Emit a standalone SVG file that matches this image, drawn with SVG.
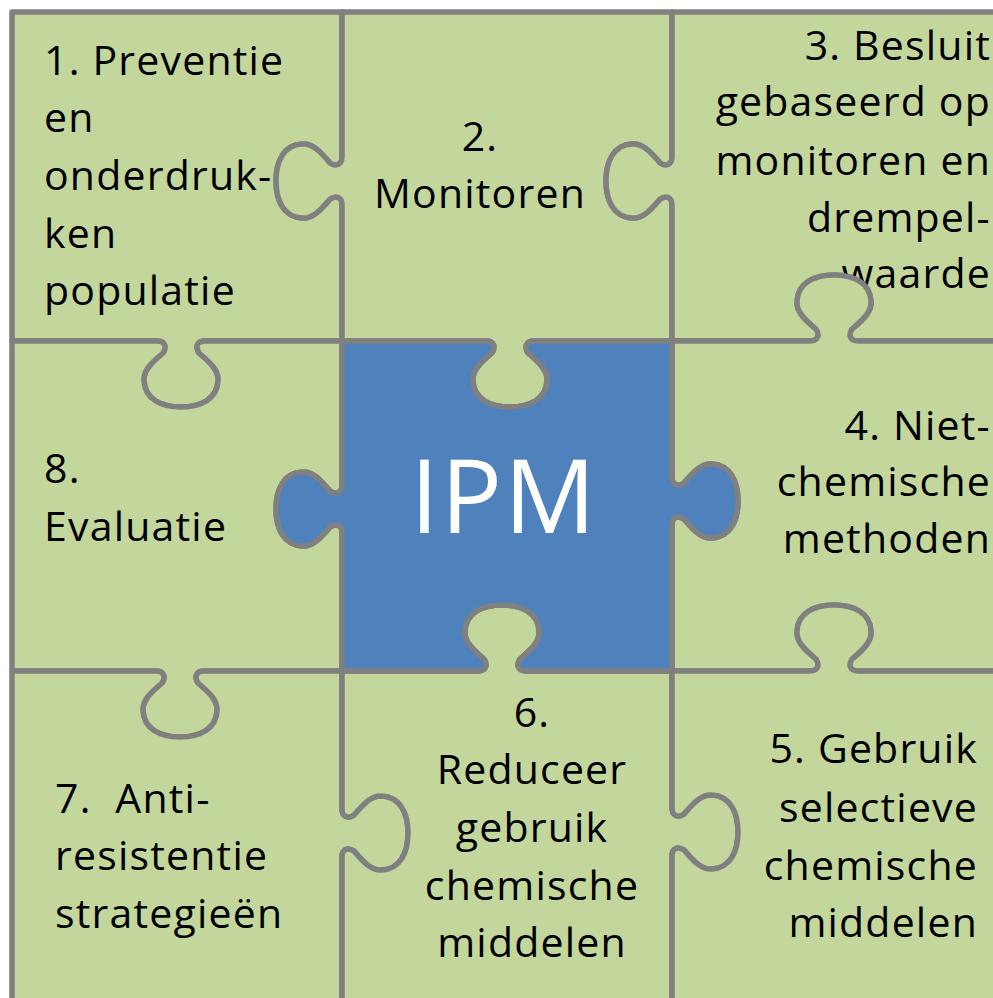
<svg xmlns="http://www.w3.org/2000/svg" width="993" height="998" viewBox="0 0 993 998">
<style>
.pc{fill:#C3D69B;stroke:#808080;stroke-width:5.5;stroke-linejoin:round}
.blue{fill:#4F81BD}
.t{font-family:"Open Sans","Noto Sans","Liberation Sans",sans-serif;font-size:41px;letter-spacing:1.2px;fill:#000}
.ipm{font-family:"Open Sans","Noto Sans","Liberation Sans",sans-serif;font-size:102px;letter-spacing:2px;fill:#fff}
</style>
<rect x="0" y="0" width="993" height="998" fill="#fff"/>
<g id="piece1">
<path class="pc" d="M12,12 L342,12 L342,157 C342,165 336,167 330,163 C320,151 312,143 302,144 C284,145 276,161 276,181 C276,201 284,217 302,218 C312,219 320,211 330,199 C336,195 342,197 342,205 L342,341 L205,341 C197,341 195,347 199,353 C211,363 219,371 218,381 C217,399 201,407 181,407 C161,407 145,399 144,381 C143,371 151,363 163,353 C167,347 165,341 157,341 L12,341 Z"/>
<text class="t" x="44"><tspan x="44" y="75">1. Preventie</tspan><tspan x="44" y="132">en</tspan><tspan x="44" y="190">onderdruk-</tspan><tspan x="44" y="248">ken</tspan><tspan x="44" y="305">populatie</tspan></text>
</g>
<g id="piece2">
<path class="pc" d="M342,12 L672,12 L672,157 C672,165 666,167 660,163 C650,151 642,143 632,144 C614,145 606,161 606,181 C606,201 614,217 632,218 C642,219 650,211 660,199 C666,195 672,197 672,205 L672,341 L534,341 C526,341 524,347 528,353 C540,363 548,371 547,381 C546,399 530,407 510,407 C490,407 474,399 473,381 C472,371 480,363 492,353 C496,347 494,341 486,341 L342,341 L342,205 C342,197 336,195 330,199 C320,211 312,219 302,218 C284,217 276,201 276,181 C276,161 284,145 302,144 C312,143 320,151 330,163 C336,167 342,165 342,157 Z"/>
<text class="t" text-anchor="middle"><tspan x="480" y="151">2.</tspan><tspan x="480" y="208">Monitoren</tspan></text>
</g>
<g id="piece3">
<path class="pc" d="M672,12 L1010,12 L1010,341 L858,341 C850,341 848,335 852,329 C864,319 872,311 871,301 C870,283 854,275 834,275 C814,275 798,283 797,301 C796,311 804,319 816,329 C820,335 818,341 810,341 L672,341 L672,205 C672,197 666,195 660,199 C650,211 642,219 632,218 C614,217 606,201 606,181 C606,161 614,145 632,144 C642,143 650,151 660,163 C666,167 672,165 672,157 Z"/>
<text class="t" text-anchor="end"><tspan x="991" y="60">3. Besluit</tspan><tspan x="991" y="116">gebaseerd op</tspan><tspan x="991" y="175">monitoren en</tspan><tspan x="991" y="232">drempel-</tspan><tspan x="991" y="288">waarde</tspan></text>
</g>
<g id="piece8">
<path class="pc" d="M12,341 L157,341 C165,341 167,347 163,353 C151,363 143,371 144,381 C145,399 161,407 181,407 C201,407 217,399 218,381 C219,371 211,363 199,353 C195,347 197,341 205,341 L342,341 L342,485 C342,493 336,495 330,491 C320,479 312,471 302,472 C284,473 276,489 276,509 C276,529 284,545 302,546 C312,547 320,539 330,527 C336,523 342,525 342,533 L342,671 L204,671 C196,671 194,677 198,683 C210,693 218,701 217,711 C216,729 200,737 180,737 C160,737 144,729 143,711 C142,701 150,693 162,683 C166,677 164,671 156,671 L12,671 Z"/>
<text class="t"><tspan x="44" y="483">8.</tspan><tspan x="44" y="541">Evaluatie</tspan></text>
</g>
<g id="piece4">
<path class="pc" d="M672,341 L810,341 C818,341 820,335 816,329 C804,319 796,311 797,301 C798,283 814,275 834,275 C854,275 870,283 871,301 C872,311 864,319 852,329 C848,335 850,341 858,341 L1010,341 L1010,671 L858,671 C850,671 848,665 852,659 C864,649 872,641 871,631 C870,613 854,605 834,605 C814,605 798,613 797,631 C796,641 804,649 816,659 C820,665 818,671 810,671 L672,671 L672,525 C672,517 678,515 684,519 C694,531 702,539 712,538 C730,537 738,521 738,501 C738,481 730,465 712,464 C702,463 694,471 684,483 C678,487 672,485 672,477 Z"/>
<text class="t" text-anchor="end"><tspan x="991" y="440">4. Niet-</tspan><tspan x="991" y="496">chemische</tspan><tspan x="991" y="553">methoden</tspan></text>
</g>
<g id="piece7">
<path class="pc" d="M12,671 L156,671 C164,671 166,677 162,683 C150,693 142,701 143,711 C144,729 160,737 180,737 C200,737 216,729 217,711 C218,701 210,693 198,683 C194,677 196,671 204,671 L342,671 L342,809 C342,817 348,819 354,815 C364,803 372,795 382,796 C400,797 408,813 408,833 C408,853 400,869 382,870 C372,871 364,863 354,851 C348,847 342,849 342,857 L342,1010 L12,1010 Z"/>
<text class="t" xml:space="preserve"><tspan x="55" y="813">7.  Anti-</tspan><tspan x="55" y="870">resistentie</tspan><tspan x="55" y="928">strategieën</tspan></text>
</g>
<g id="piece6">
<path class="pc" d="M342,671 L478,671 C486,671 488,665 484,659 C472,649 464,641 465,631 C466,613 482,605 502,605 C522,605 538,613 539,631 C540,641 532,649 520,659 C516,665 518,671 526,671 L672,671 L672,808 C672,816 678,818 684,814 C694,802 702,794 712,795 C730,796 738,812 738,832 C738,852 730,868 712,869 C702,870 694,862 684,850 C678,846 672,848 672,856 L672,1010 L342,1010 L342,857 C342,849 348,847 354,851 C364,863 372,871 382,870 C400,869 408,853 408,833 C408,813 400,797 382,796 C372,795 364,803 354,815 C348,819 342,817 342,809 Z"/>
<text class="t" text-anchor="middle"><tspan x="532" y="727">6.</tspan><tspan x="532" y="784">Reduceer</tspan><tspan x="532" y="842">gebruik</tspan><tspan x="532" y="900">chemische</tspan><tspan x="532" y="957">middelen</tspan></text>
</g>
<g id="piece5">
<path class="pc" d="M672,671 L810,671 C818,671 820,665 816,659 C804,649 796,641 797,631 C798,613 814,605 834,605 C854,605 870,613 871,631 C872,641 864,649 852,659 C848,665 850,671 858,671 L1010,671 L1010,1010 L672,1010 L672,856 C672,848 678,846 684,850 C694,862 702,870 712,869 C730,868 738,852 738,832 C738,812 730,796 712,795 C702,794 694,802 684,814 C678,818 672,816 672,808 Z"/>
<text class="t" text-anchor="end"><tspan x="978" y="763">5. Gebruik</tspan><tspan x="978" y="822">selectieve</tspan><tspan x="978" y="880">chemische</tspan><tspan x="978" y="937">middelen</tspan></text>
</g>
<g id="ipm">
<path class="pc blue" d="M342,341 L486,341 C494,341 496,347 492,353 C480,363 472,371 473,381 C474,399 490,407 510,407 C530,407 546,399 547,381 C548,371 540,363 528,353 C524,347 526,341 534,341 L672,341 L672,477 C672,485 678,487 684,483 C694,471 702,463 712,464 C730,465 738,481 738,501 C738,521 730,537 712,538 C702,539 694,531 684,519 C678,515 672,517 672,525 L672,671 L526,671 C518,671 516,665 520,659 C532,649 540,641 539,631 C538,613 522,605 502,605 C482,605 466,613 465,631 C464,641 472,649 484,659 C488,665 486,671 478,671 L342,671 L342,533 C342,525 336,523 330,527 C320,539 312,547 302,546 C284,545 276,529 276,509 C276,489 284,473 302,472 C312,471 320,479 330,491 C336,495 342,493 342,485 Z"/>
<text class="ipm" x="504" y="533" text-anchor="middle">IPM</text>
</g>
</svg>
